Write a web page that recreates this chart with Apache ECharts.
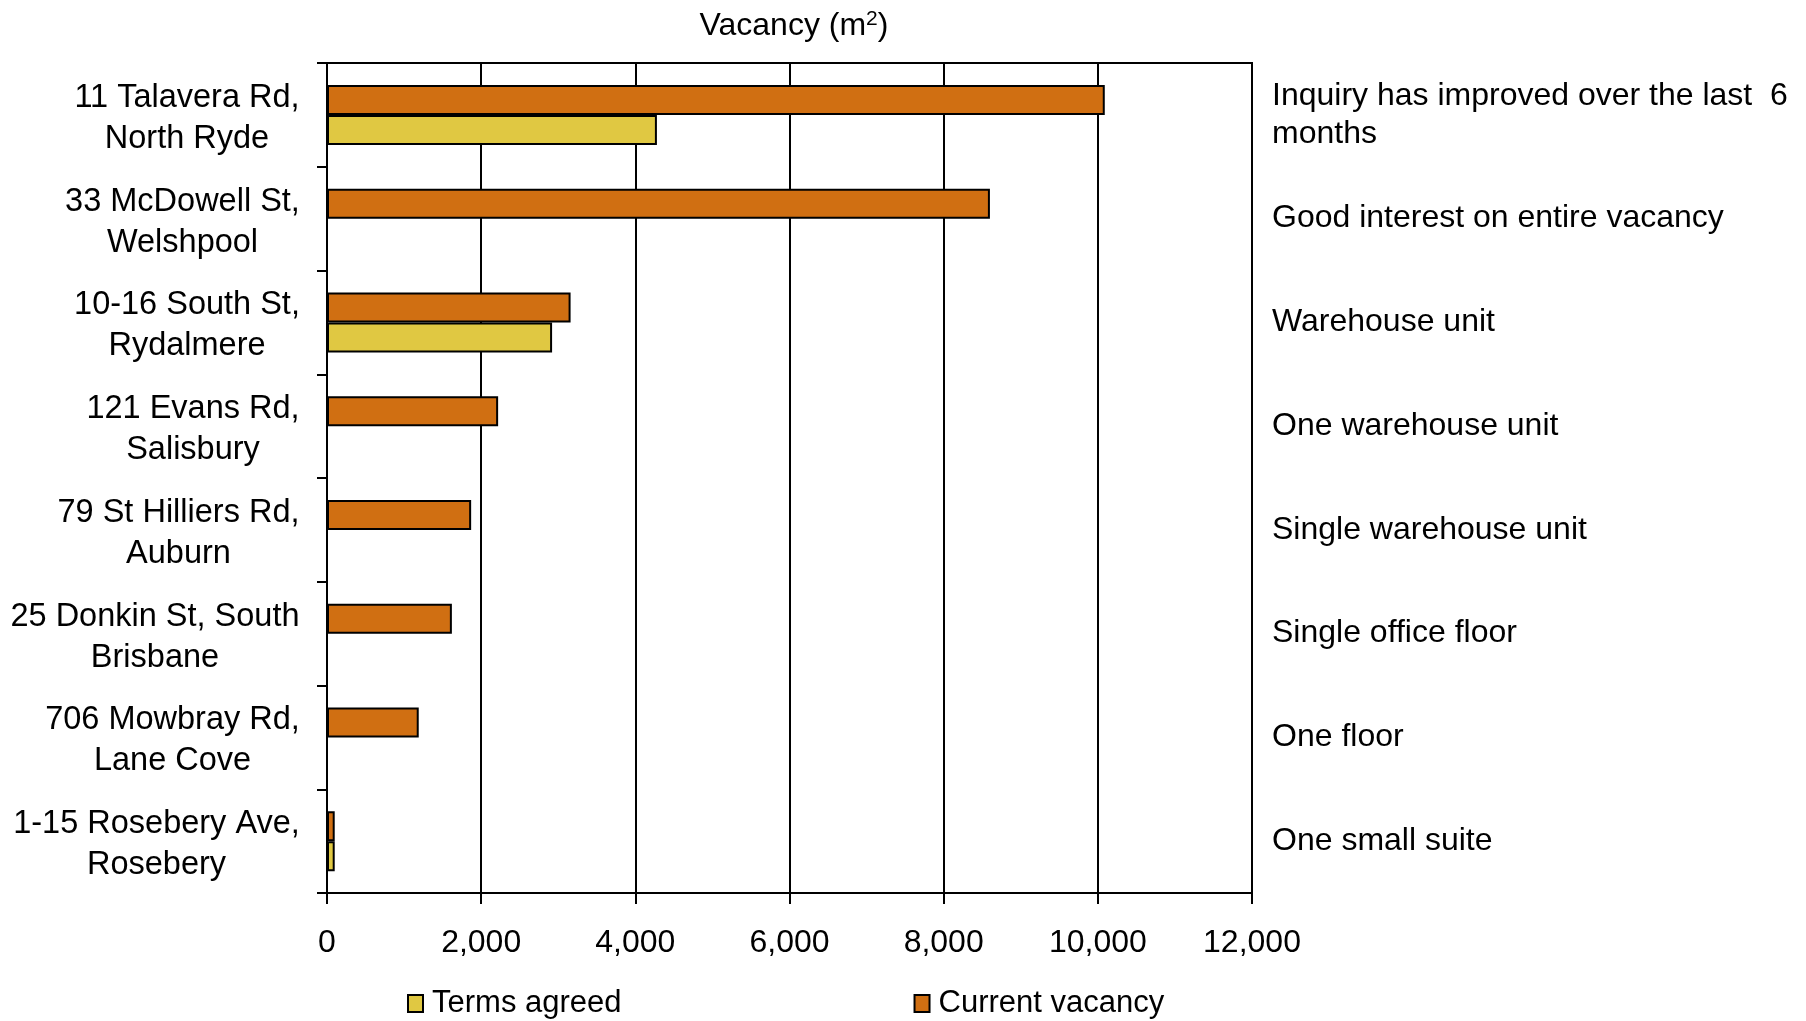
<!DOCTYPE html>
<html>
<head>
<meta charset="utf-8">
<script src="https://cdn.jsdelivr.net/npm/echarts@6/dist/echarts.min.js"></script>
<style>
html,body{margin:0;padding:0;background:#fff;}
#chart{width:1806px;height:1021px;}
</style>
</head>
<body>
<div id="chart"></div>
<script>
// ---- data ----
var categories = [
  '11 Talavera Rd,\nNorth Ryde',
  '33 McDowell St,\nWelshpool',
  '10-16 South St,\nRydalmere',
  '121 Evans Rd,\nSalisbury',
  '79 St Hilliers Rd,\nAuburn',
  '25 Donkin St, South\nBrisbane',
  '706 Mowbray Rd,\nLane Cove',
  '1-15 Rosebery Ave,\nRosebery'
];
var comments = [
  'Inquiry has improved over the last  6\nmonths',
  'Good interest on entire vacancy',
  'Warehouse unit',
  'One warehouse unit',
  'Single warehouse unit',
  'Single office floor',
  'One floor',
  'One small suite'
];
var currentVacancy = [10090, 8600, 3160, 2220, 1870, 1620, 1190, 100];
var termsAgreed = [4280, null, 2920, null, null, null, null, 100];
var xTicks = [0, 2000, 4000, 6000, 8000, 10000, 12000];
var seriesNames = ['Terms agreed', 'Current vacancy'];
var axisTitle = 'Vacancy (m{sup|2})';

// ---- styling ----
var FONT = '"Liberation Sans", Arial, sans-serif';
var ORANGE = '#D06F12';
var YELLOW = '#E0C842';
var LBL = 32.5;

// measure label lines so multi-line labels are centred within their own block
var cv = document.createElement('canvas').getContext('2d');
cv.font = LBL + 'px "Liberation Sans"';
var rich = {};
categories.forEach(function (c, i) {
  var w = 0;
  c.split('\n').forEach(function (l) { w = Math.max(w, cv.measureText(l).width); });
  rich['c' + i] = { width: Math.ceil(w) + 2, align: 'center', fontSize: LBL, fontFamily: FONT, color: '#000', lineHeight: 41 };
});

var chart = echarts.init(document.getElementById('chart'), null, { renderer: 'canvas' });
chart.setOption({
  animation: false,
  backgroundColor: '#fff',
  textStyle: { fontFamily: FONT },
  title: {
    text: axisTitle,
    left: 789,
    top: 4,
    textAlign: 'center',
    textStyle: {
      fontFamily: FONT, fontSize: 32, fontWeight: 'normal', color: '#000',
      rich: {
        sup: { fontSize: 21, fontFamily: FONT, color: '#000', verticalAlign: 'top', padding: [0, 0, 14, 0] }
      }
    }
  },
  legend: {
    data: seriesNames,
    left: 402,
    top: 983,
    itemWidth: 15,
    itemHeight: 17,
    itemGap: 292,
    icon: 'rect',
    textStyle: { fontFamily: FONT, fontSize: 31, color: '#000', padding: [0, 0, 0, 4] }
  },
  grid: {
    left: 327, right: 554, top: 63, bottom: 128,
    show: true, borderColor: '#000', borderWidth: 2, backgroundColor: 'transparent'
  },
  xAxis: {
    type: 'value',
    min: xTicks[0],
    max: xTicks[xTicks.length - 1],
    interval: xTicks[1] - xTicks[0],
    axisLine: { show: true, onZero: false, lineStyle: { color: '#000', width: 2 } },
    axisTick: { show: true, length: 11, lineStyle: { color: '#000', width: 2 } },
    splitLine: { show: true, lineStyle: { color: '#000', width: 2 } },
    axisLabel: {
      margin: 34, fontSize: 32, fontFamily: FONT, color: '#000',
      formatter: function (v) { return v.toLocaleString('en-US'); }
    }
  },
  yAxis: [{
    type: 'category',
    data: categories,
    inverse: true,
    axisLine: { show: true, lineStyle: { color: '#000', width: 2 } },
    axisTick: { show: true, length: 10, lineStyle: { color: '#000', width: 2 } },
    splitLine: { show: false },
    axisLabel: {
      margin: 26,
      align: 'right',
      padding: [7, 0, 0, 0],
      fontSize: LBL, fontFamily: FONT, color: '#000', lineHeight: 41,
      formatter: function (v, i) {
        return v.split('\n').map(function (l) { return '{c' + i + '|' + l + '}'; }).join('\n');
      },
      rich: rich
    }
  }, {
    type: 'category',
    data: comments,
    inverse: true,
    position: 'right',
    axisLine: { show: false },
    axisTick: { show: false },
    splitLine: { show: false },
    axisLabel: {
      margin: 20, align: 'left',
      padding: [6, 0, 0, 0],
      fontSize: 32, fontFamily: FONT, color: '#000', lineHeight: 38
    }
  }],
  series: [{
    name: seriesNames[1],
    type: 'bar',
    data: currentVacancy,
    barWidth: 30,
    barGap: '0%',
    itemStyle: { color: ORANGE, borderColor: '#000', borderWidth: 2 }
  }, {
    name: seriesNames[0],
    type: 'bar',
    data: termsAgreed,
    barWidth: 30,
    barGap: '0%',
    itemStyle: { color: YELLOW, borderColor: '#000', borderWidth: 2 }
  }]
});
</script>
</body>
</html>
